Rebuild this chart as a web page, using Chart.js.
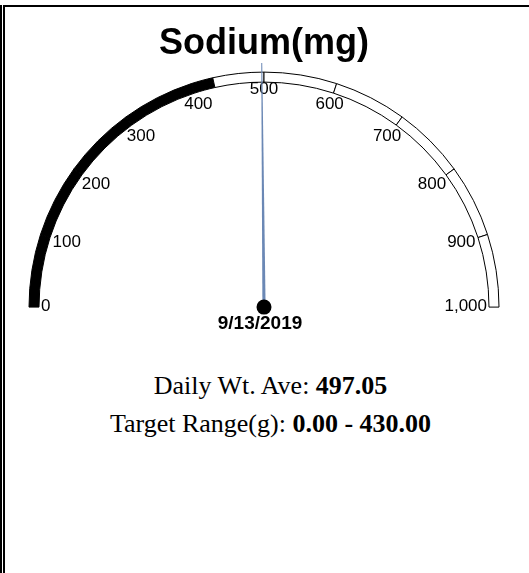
<!DOCTYPE html>
<html>
<head>
<meta charset="utf-8">
<script src="https://cdn.jsdelivr.net/npm/chart.js@4.4.0/dist/chart.umd.min.js"></script>
<style>
    body { margin: 0; background: #fff; width: 529px; height: 573px; overflow: hidden; position: relative; }
    #edgeOuter { position: absolute; left: 0; top: 5px; width: 2px; bottom: 0; background: #000; }
    #frame { position: absolute; left: 3px; top: 5px; right: 0; bottom: 0; border-left: 2px solid #000; border-top: 2px solid #000; }
    #gauge { position: absolute; left: 0; top: 0; }
    #info { position: absolute; left: 6px; width: 529px; top: 367px; text-align: center;
            font-family: "Liberation Serif", "Times New Roman", serif; font-size: 26px; line-height: 38px; color: #000; }
</style>
</head>
<body>
<div id="edgeOuter"></div>
<div id="frame"></div>
<canvas id="gauge" width="529" height="345"></canvas>
<div id="info">
    <div>Daily Wt. Ave: <b id="aveText"></b></div>
    <div>Target Range(g): <b id="rangeText"></b></div>
</div>
<script>
// gauge data
const chartTitle = "Sodium(mg)";
const gaugeMax = 1000;
const tickValues = [0, 100, 200, 300, 400, 500, 600, 700, 800, 900, 1000];
const tickLabels = ["0", "100", "200", "300", "400", "500", "600", "700", "800", "900", "1,000"];
const targetRange = [0, 430];
const needleValue = 497.05;
const dateLabel = "9/13/2019";

document.getElementById("aveText").innerText = needleValue.toFixed(2);
document.getElementById("rangeText").innerText = targetRange[0].toFixed(2) + " - " + targetRange[1].toFixed(2);

// split the band at every tick and at the target limit
var bounds = tickValues.concat(targetRange).filter(function(v, i, a){ return a.indexOf(v) == i; });
bounds.sort(function(a, b){ return a - b; });
var segData = [];
var segColors = [];
for (let i = 1; i < bounds.length; i++){
    segData.push(bounds[i] - bounds[i-1]);
    segColors.push(bounds[i] <= targetRange[1] ? "#000" : "#fff");
}

function valueAngle(chart, v){
    let arcs = chart.getDatasetMeta(0).data;
    let a0 = arcs[0].startAngle;
    let a1 = arcs[arcs.length-1].endAngle;
    return a0 + (a1 - a0) * v / gaugeMax;
}

const gaugeExtras = {
    id: "gaugeExtras",
    afterDatasetsDraw(chart){
        let ctx = chart.ctx;
        let arc = chart.getDatasetMeta(0).data[0];
        let cx = arc.x, cy = arc.y, ri = arc.innerRadius;

        // tick labels inside the band
        ctx.save();
        ctx.font = "17px 'Liberation Sans', Arial, sans-serif";
        ctx.fillStyle = "#000";
        ctx.textAlign = "center";
        ctx.textBaseline = "middle";
        for (let i = 0; i < tickValues.length; i++){
            let a = valueAngle(chart, tickValues[i]);
            let hw = ctx.measureText(tickLabels[i]).width / 2;
            let hh = 6.5;
            let r = ri - 2 - (hw * Math.abs(Math.cos(a)) + hh * Math.abs(Math.sin(a)));
            ctx.fillText(tickLabels[i], cx + r * Math.cos(a), cy + r * Math.sin(a) - 1);
        }

        // needle
        let a = valueAngle(chart, needleValue);
        let len = arc.outerRadius + 9;
        let nx = Math.cos(a), ny = Math.sin(a);
        let px = -ny, py = nx;
        ctx.fillStyle = "#6b88b5";
        ctx.beginPath();
        ctx.moveTo(cx + px * 1.6, cy + py * 1.6);
        ctx.lineTo(cx + nx * len + px * 0.5, cy + ny * len + py * 0.5);
        ctx.lineTo(cx + nx * len - px * 0.5, cy + ny * len - py * 0.5);
        ctx.lineTo(cx - px * 1.6, cy - py * 1.6);
        ctx.closePath();
        ctx.fill();

        // pivot
        ctx.fillStyle = "#000";
        ctx.beginPath();
        ctx.arc(cx, cy, 7.5, 0, Math.PI * 2);
        ctx.fill();

        // date under the pivot
        ctx.font = "bold 19px 'Liberation Sans', Arial, sans-serif";
        ctx.fillText(dateLabel, cx - 4, cy + 17);
        ctx.restore();
    }
};

var gaugeChart = new Chart(document.getElementById("gauge"), {
    type: "doughnut",
    data: {
        labels: segData.map(function(v, i){ return bounds[i] + "-" + bounds[i+1]; }),
        datasets: [{
            data: segData,
            backgroundColor: segColors,
            borderColor: "#000",
            borderWidth: 1,
            hoverOffset: 0
        }]
    },
    options: {
        responsive: false,
        animation: false,
        rotation: -90,
        circumference: 180,
        radius: 235,
        cutout: (225 / 235 * 100) + "%",
        layout: { padding: { top: 0, left: 0, right: 1, bottom: 31 } },
        events: [],
        plugins: {
            legend: { display: false },
            tooltip: { enabled: false },
            title: {
                display: true,
                text: chartTitle,
                color: "#000",
                font: { family: "'Liberation Sans', Arial, sans-serif", size: 36, weight: "bold" },
                padding: { top: 22, bottom: 0 }
            }
        }
    },
    plugins: [gaugeExtras]
});
</script>
</body>
</html>
